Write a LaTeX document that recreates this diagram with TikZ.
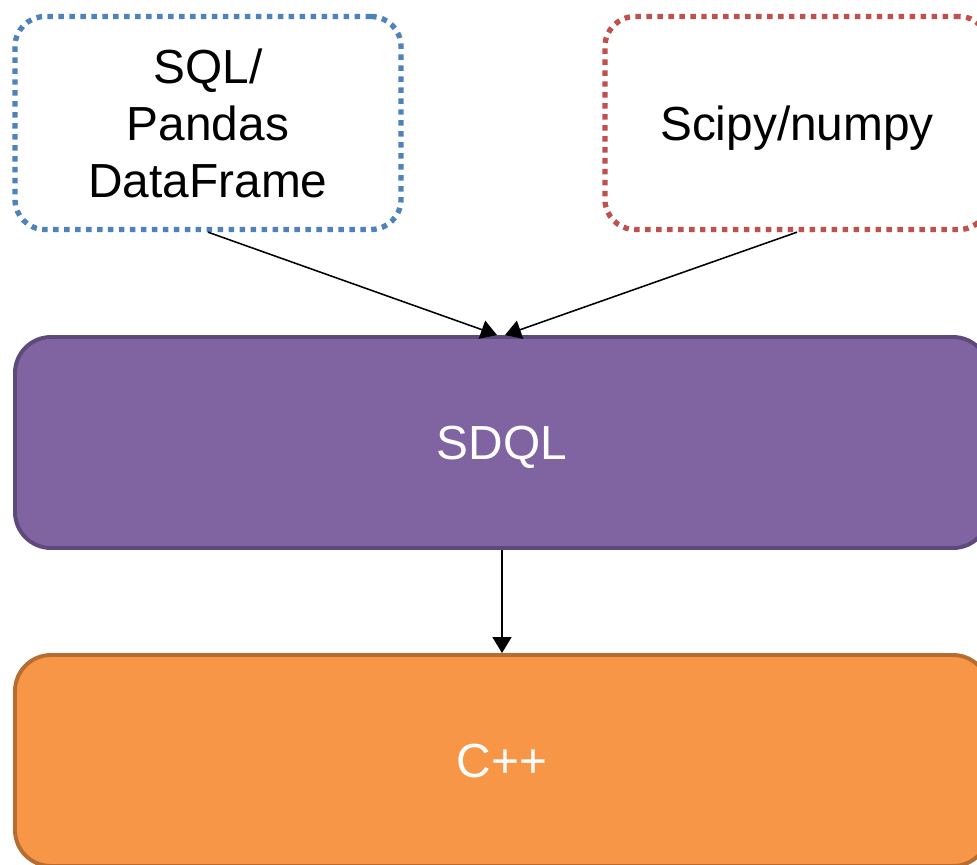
\documentclass[tikz,border=0pt]{standalone}
\usepackage{fontspec}
\setmainfont{Liberation Sans}
\usetikzlibrary{arrows.meta}
\definecolor{srcblue}{HTML}{4F81BD}
\definecolor{srcred}{HTML}{C0504D}
\definecolor{sdqlfill}{HTML}{8064A2}
\definecolor{sdqldraw}{HTML}{5E4A7A}
\definecolor{cppfill}{HTML}{F79646}
\definecolor{cppdraw}{HTML}{B66D31}
\begin{document}
\begin{tikzpicture}[x=0.025cm,y=-0.025cm]

\def\px{0.025cm}
\tikzstyle{source} = [
	rectangle, rounded corners=30*\px, fill=white,
	line width=3.8pt, dash pattern=on 3.9pt off 3.9pt,
	minimum height=213*\px, align=center, text depth=0pt,
	font=\fontsize{34}{40.5}\selectfont ];
\tikzstyle{layer} = [
	rectangle, rounded corners=36*\px, line width=2.8pt,
	minimum width=974*\px, minimum height=211*\px, text depth=0pt,
	text=white, font=\fontsize{34}{40.5}\selectfont ];
\tikzstyle{flow} = [line width=1.1pt, -{Triangle[length=16*\px,width=19*\px]}];
\useasboundingbox (0,0) rectangle (977,864);
\clip (0,0) rectangle (977,864);

\node[source,draw=srcblue,minimum width=386*\px] (df) at (208,123) {SQL/\\Pandas\\DataFrame};
\node[source,draw=srcred,minimum width=384*\px] (np) at (797,123) {Scipy/numpy};

\node[layer,fill=sdqlfill,draw=sdqldraw] (sdql) at (502,442.5) {SDQL};
\node[layer,fill=cppfill,draw=cppdraw] (cpp) at (502,760.5) {C++};

\draw[flow] (df.south) -- ([xshift=-5*\px]sdql.north);
\draw[flow] (np.south) -- ([xshift=3*\px]sdql.north);
\draw[flow] (sdql) -- (cpp);

\end{tikzpicture}
\end{document}
